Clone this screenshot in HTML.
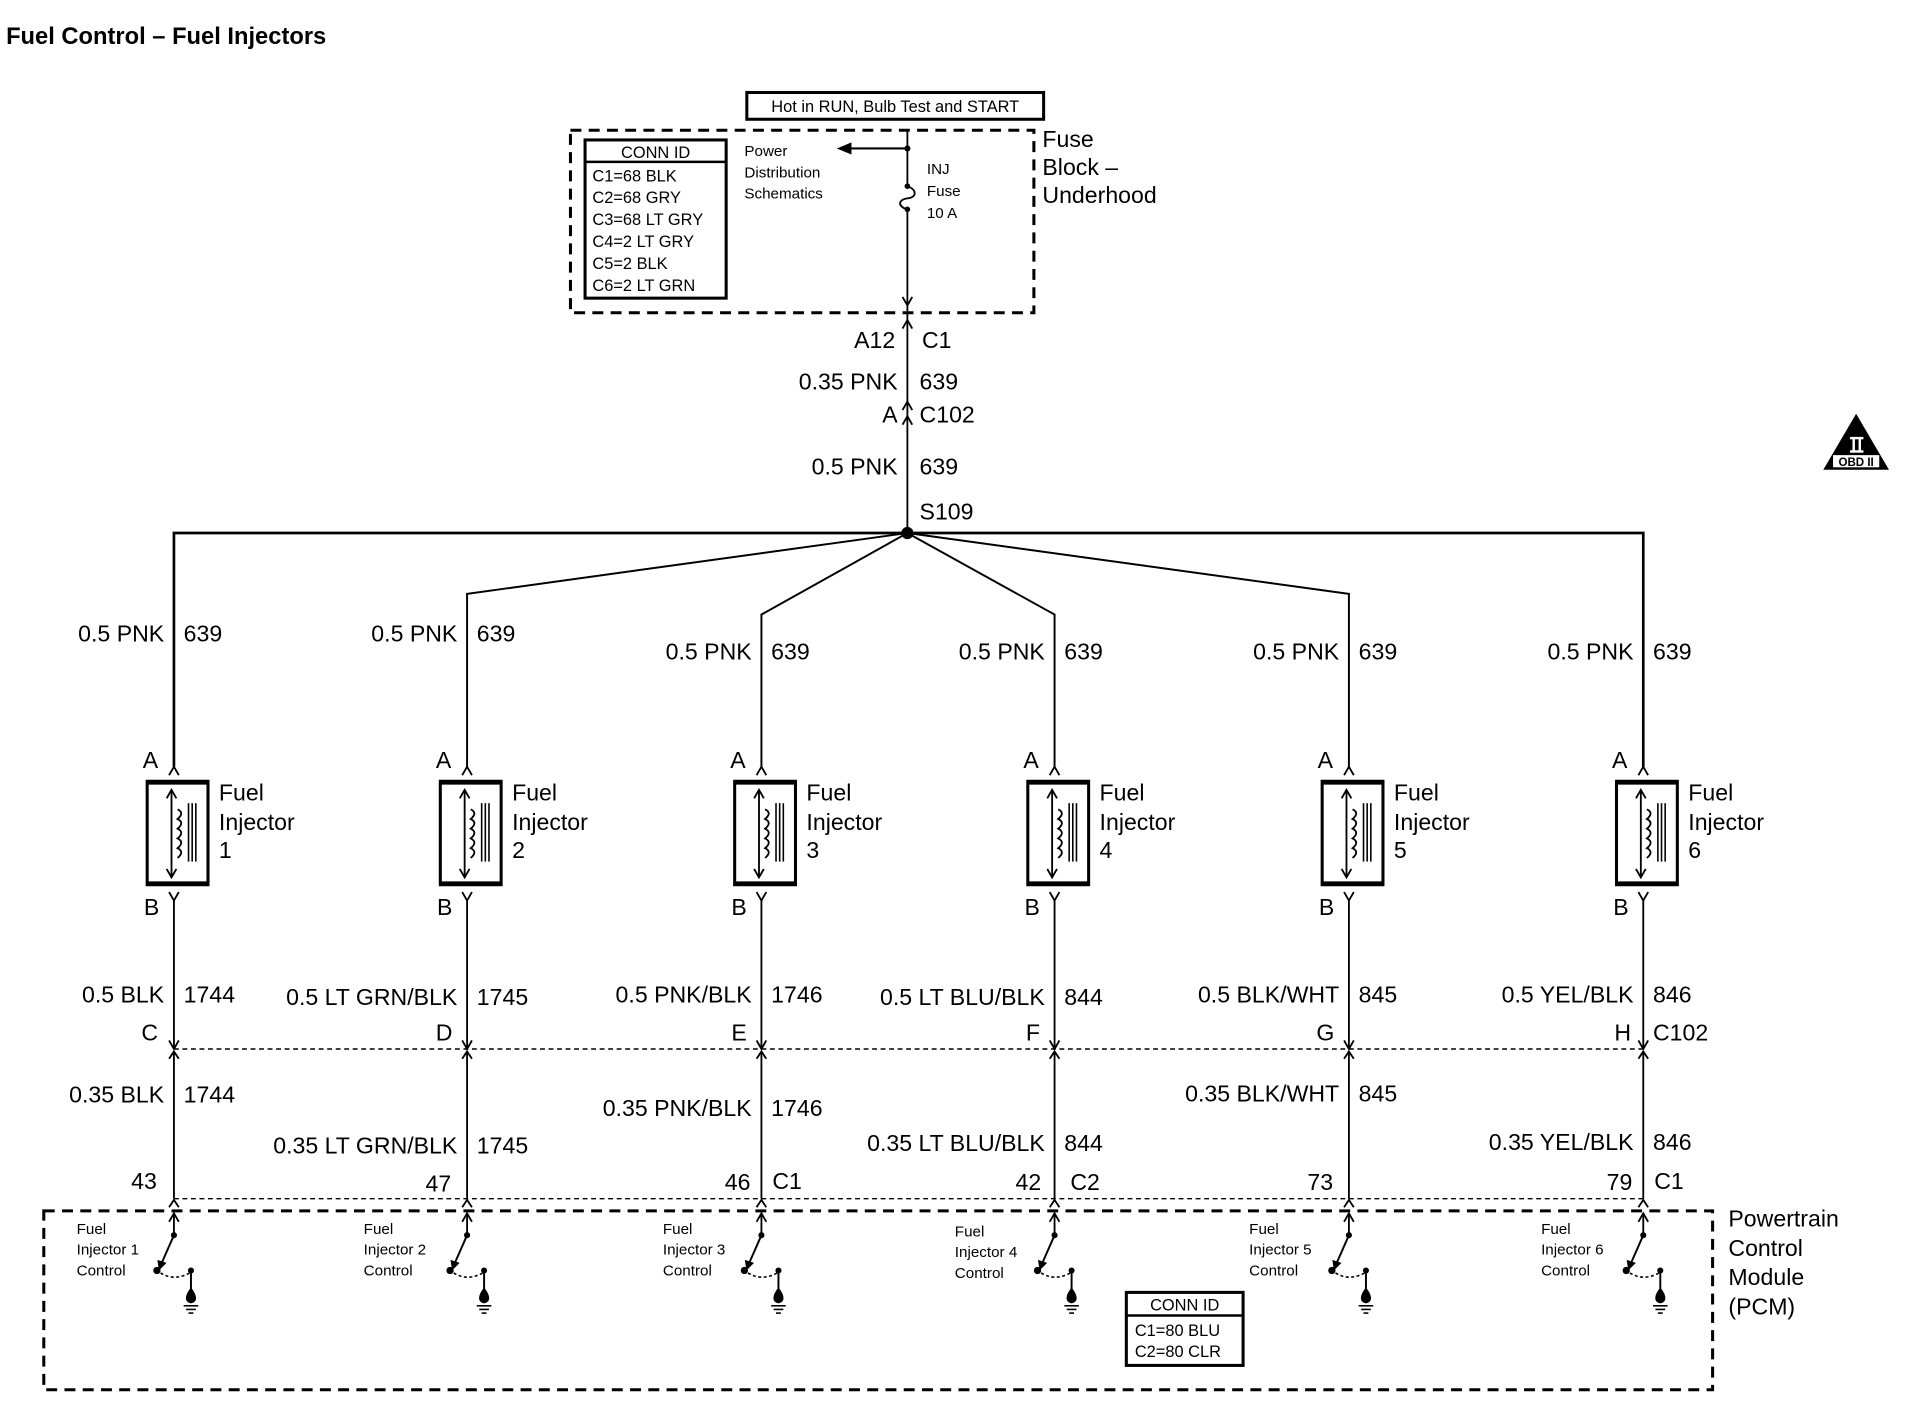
<!DOCTYPE html>
<html><head><meta charset="utf-8"><style>
html,body{margin:0;padding:0;background:#fff}
svg{display:block}
text{font-family:"Liberation Sans Narrow","Liberation Sans",sans-serif;fill:#000}
</style></head><body>
<svg width="1906" height="1408" viewBox="0 0 1567 1157" preserveAspectRatio="none" xmlns="http://www.w3.org/2000/svg">
<defs>
<g id="inj">
<path d="M-4,637 L0,630 L4,637" fill="none" stroke="#000" stroke-width="1.5"/>
<rect x="-22" y="642" width="50" height="85" fill="none" stroke="#000" stroke-width="2.5"/>
<line x1="-23" y1="643" x2="29" y2="643" stroke="#000" stroke-width="3.5"/>
<line x1="-23" y1="726" x2="29" y2="726" stroke="#000" stroke-width="3.5"/>
<line x1="-2" y1="650" x2="-2" y2="720" stroke="#000" stroke-width="1.5"/>
<path d="M-6,656 L-2,649 L2,656 M-6,714 L-2,721 L2,714" fill="none" stroke="#000" stroke-width="1.5"/>
<path d="M3,665 q6,3 0,8 q6,3 0,8 q6,3 0,8 q6,3 0,8 q6,3 0,8" fill="none" stroke="#000" stroke-width="1.5"/>
<line x1="12" y1="660" x2="12" y2="708" stroke="#000" stroke-width="1.3"/>
<line x1="15" y1="660" x2="15" y2="708" stroke="#000" stroke-width="1.3"/>
<line x1="18" y1="660" x2="18" y2="708" stroke="#000" stroke-width="1.3"/>
<path d="M-4,733 L0,740 L4,733" fill="none" stroke="#000" stroke-width="1.5"/>
<line x1="0" y1="740" x2="0" y2="862" stroke="#000" stroke-width="1.5"/>
<path d="M-4,855 L0,862 L4,855 M-4,870 L0,864 L4,870" fill="none" stroke="#000" stroke-width="1.5"/>
<line x1="0" y1="864" x2="0" y2="985" stroke="#000" stroke-width="1.5"/>
<path d="M-4,992 L0,986 L4,992 M-4,1004 L0,997 L4,1004" fill="none" stroke="#000" stroke-width="1.5"/>
<line x1="0" y1="997" x2="0" y2="1015" stroke="#000" stroke-width="1.5"/>
<circle cx="0" cy="1015" r="2.5"/>
<line x1="0" y1="1015" x2="-11" y2="1040" stroke="#000" stroke-width="1.6"/>
<path d="M-13,1036 L-12,1043 L-7,1038 Z" stroke="#000" stroke-width="1"/>
<circle cx="-14" cy="1044" r="3"/>
<path d="M-11,1046 Q0,1053 13,1046" fill="none" stroke="#000" stroke-width="1.3" stroke-dasharray="2.5 2"/>
<circle cx="14" cy="1044" r="2.5"/>
<line x1="14" y1="1044" x2="14" y2="1066" stroke="#000" stroke-width="1.6"/>
<path d="M14,1058 C9,1064 8,1070 14,1071 C20,1070 19,1064 14,1058Z"/>
<line x1="8" y1="1073" x2="20" y2="1073" stroke="#000" stroke-width="1.3"/>
<line x1="10" y1="1076" x2="18" y2="1076" stroke="#000" stroke-width="1.3"/>
<line x1="12" y1="1079" x2="16" y2="1079" stroke="#000" stroke-width="1.3"/>
</g>
</defs>

<text x="5" y="36" font-size="19.5" font-weight="bold">Fuel Control – Fuel Injectors</text>

<rect x="614" y="76" width="244" height="22" fill="none" stroke="#000" stroke-width="2.5"/>
<text x="736" y="92" font-size="13.5" text-anchor="middle">Hot in RUN, Bulb Test and START</text>

<rect x="469" y="107" width="381" height="150" fill="none" stroke="#000" stroke-width="2.5" stroke-dasharray="9 6"/>
<text x="857" y="121" font-size="19">Fuse</text>
<text x="857" y="144" font-size="19">Block –</text>
<text x="857" y="167" font-size="19">Underhood</text>

<rect x="481" y="115" width="116" height="130" fill="none" stroke="#000" stroke-width="2.5"/>
<line x1="481" y1="133" x2="597" y2="133" stroke="#000" stroke-width="2"/>
<g font-size="13.5">
<text x="539" y="130" text-anchor="middle">CONN ID</text>
<text x="487" y="149">C1=68 BLK</text>
<text x="487" y="167">C2=68 GRY</text>
<text x="487" y="185">C3=68 LT GRY</text>
<text x="487" y="203">C4=2 LT GRY</text>
<text x="487" y="221">C5=2 BLK</text>
<text x="487" y="239">C6=2 LT GRN</text>
</g>
<g font-size="12.5">
<text x="612" y="128">Power</text>
<text x="612" y="146">Distribution</text>
<text x="612" y="163">Schematics</text>
<text x="762" y="143">INJ</text>
<text x="762" y="161">Fuse</text>
<text x="762" y="179">10 A</text>
</g>
<line x1="746" y1="107" x2="746" y2="153" stroke="#000" stroke-width="1.5"/>
<circle cx="746" cy="122" r="2.5"/>
<line x1="746" y1="122" x2="698" y2="122" stroke="#000" stroke-width="1.8"/>
<path d="M688,122 L700,117 L700,127 Z"/>
<circle cx="746" cy="153" r="2.3"/>
<path d="M746,153 C754,156 754,162 746,163 C738,164 738,170 746,172" fill="none" stroke="#000" stroke-width="1.5"/>
<circle cx="746" cy="172" r="2.3"/>
<line x1="746" y1="172" x2="746" y2="438" stroke="#000" stroke-width="1.5"/>
<path d="M742,244 L746,251 L750,244 M742,270 L746,263 L750,270" fill="none" stroke="#000" stroke-width="1.5"/>
<path d="M742,337 L746,330 L750,337 M742,349 L746,342 L750,349" fill="none" stroke="#000" stroke-width="1.5"/>
<g font-size="19">
<text x="736" y="286" text-anchor="end">A12</text><text x="758" y="286">C1</text>
<text x="738" y="320" text-anchor="end">0.35 PNK</text><text x="756" y="320">639</text>
<text x="738" y="347" text-anchor="end">A</text><text x="756" y="347">C102</text>
<text x="738" y="390" text-anchor="end">0.5 PNK</text><text x="756" y="390">639</text>
<text x="756" y="427">S109</text>
</g>
<circle cx="746" cy="438" r="5"/>
<path d="M143,630 V438 H1351 V630" fill="none" stroke="#000" stroke-width="2.2"/>
<path d="M384,630 V488 L746,438 L1109,488 V630 M626,630 V505 L746,438 L867,505 V630" fill="none" stroke="#000" stroke-width="1.6"/>

<use href="#inj" x="143"/><use href="#inj" x="384"/><use href="#inj" x="626"/>
<use href="#inj" x="867"/><use href="#inj" x="1109"/><use href="#inj" x="1351"/>

<line x1="143" y1="862" x2="1351" y2="862" stroke="#000" stroke-width="1.2" stroke-dasharray="4 3"/>
<line x1="143" y1="985" x2="1351" y2="985" stroke="#000" stroke-width="1.2" stroke-dasharray="4 3"/>
<rect x="36" y="995" width="1372" height="147" fill="none" stroke="#000" stroke-width="2.5" stroke-dasharray="9 6"/>

<g font-size="19">
<text x="135" y="527" text-anchor="end">0.5 PNK</text><text x="151" y="527">639</text>
<text x="376" y="527" text-anchor="end">0.5 PNK</text><text x="392" y="527">639</text>
<text x="618" y="542" text-anchor="end">0.5 PNK</text><text x="634" y="542">639</text>
<text x="859" y="542" text-anchor="end">0.5 PNK</text><text x="875" y="542">639</text>
<text x="1101" y="542" text-anchor="end">0.5 PNK</text><text x="1117" y="542">639</text>
<text x="1343" y="542" text-anchor="end">0.5 PNK</text><text x="1359" y="542">639</text>

<text x="130" y="631" text-anchor="end">A</text><text x="371" y="631" text-anchor="end">A</text>
<text x="613" y="631" text-anchor="end">A</text><text x="854" y="631" text-anchor="end">A</text>
<text x="1096" y="631" text-anchor="end">A</text><text x="1338" y="631" text-anchor="end">A</text>

<text x="180" y="658">Fuel</text><text x="180" y="682">Injector</text><text x="180" y="705">1</text>
<text x="421" y="658">Fuel</text><text x="421" y="682">Injector</text><text x="421" y="705">2</text>
<text x="663" y="658">Fuel</text><text x="663" y="682">Injector</text><text x="663" y="705">3</text>
<text x="904" y="658">Fuel</text><text x="904" y="682">Injector</text><text x="904" y="705">4</text>
<text x="1146" y="658">Fuel</text><text x="1146" y="682">Injector</text><text x="1146" y="705">5</text>
<text x="1388" y="658">Fuel</text><text x="1388" y="682">Injector</text><text x="1388" y="705">6</text>

<text x="131" y="752" text-anchor="end">B</text><text x="372" y="752" text-anchor="end">B</text>
<text x="614" y="752" text-anchor="end">B</text><text x="855" y="752" text-anchor="end">B</text>
<text x="1097" y="752" text-anchor="end">B</text><text x="1339" y="752" text-anchor="end">B</text>

<text x="135" y="824" text-anchor="end">0.5 BLK</text><text x="151" y="824">1744</text>
<text x="376" y="826" text-anchor="end">0.5 LT GRN/BLK</text><text x="392" y="826">1745</text>
<text x="618" y="824" text-anchor="end">0.5 PNK/BLK</text><text x="634" y="824">1746</text>
<text x="859" y="826" text-anchor="end">0.5 LT BLU/BLK</text><text x="875" y="826">844</text>
<text x="1101" y="824" text-anchor="end">0.5 BLK/WHT</text><text x="1117" y="824">845</text>
<text x="1343" y="824" text-anchor="end">0.5 YEL/BLK</text><text x="1359" y="824">846</text>

<text x="130" y="855" text-anchor="end">C</text><text x="372" y="855" text-anchor="end">D</text>
<text x="614" y="855" text-anchor="end">E</text><text x="855" y="855" text-anchor="end">F</text>
<text x="1097" y="855" text-anchor="end">G</text><text x="1341" y="855" text-anchor="end">H</text>
<text x="1359" y="855">C102</text>

<text x="135" y="906" text-anchor="end">0.35 BLK</text><text x="151" y="906">1744</text>
<text x="376" y="948" text-anchor="end">0.35 LT GRN/BLK</text><text x="392" y="948">1745</text>
<text x="618" y="917" text-anchor="end">0.35 PNK/BLK</text><text x="634" y="917">1746</text>
<text x="859" y="946" text-anchor="end">0.35 LT BLU/BLK</text><text x="875" y="946">844</text>
<text x="1101" y="905" text-anchor="end">0.35 BLK/WHT</text><text x="1117" y="905">845</text>
<text x="1343" y="945" text-anchor="end">0.35 YEL/BLK</text><text x="1359" y="945">846</text>

<text x="129" y="977" text-anchor="end">43</text>
<text x="371" y="979" text-anchor="end">47</text>
<text x="617" y="978" text-anchor="end">46</text><text x="635" y="977">C1</text>
<text x="856" y="978" text-anchor="end">42</text><text x="880" y="978">C2</text>
<text x="1096" y="978" text-anchor="end">73</text>
<text x="1342" y="978" text-anchor="end">79</text><text x="1360" y="977">C1</text>

<text x="1421" y="1008">Powertrain</text><text x="1421" y="1032">Control</text>
<text x="1421" y="1056">Module</text><text x="1421" y="1080">(PCM)</text>
</g>
<g font-size="12.5">
<text x="63" y="1014">Fuel</text><text x="63" y="1031">Injector 1</text><text x="63" y="1048">Control</text>
<text x="299" y="1014">Fuel</text><text x="299" y="1031">Injector 2</text><text x="299" y="1048">Control</text>
<text x="545" y="1014">Fuel</text><text x="545" y="1031">Injector 3</text><text x="545" y="1048">Control</text>
<text x="785" y="1016">Fuel</text><text x="785" y="1033">Injector 4</text><text x="785" y="1050">Control</text>
<text x="1027" y="1014">Fuel</text><text x="1027" y="1031">Injector 5</text><text x="1027" y="1048">Control</text>
<text x="1267" y="1014">Fuel</text><text x="1267" y="1031">Injector 6</text><text x="1267" y="1048">Control</text>
</g>

<rect x="926" y="1062" width="96" height="60" fill="none" stroke="#000" stroke-width="2.5"/>
<line x1="926" y1="1081" x2="1022" y2="1081" stroke="#000" stroke-width="2"/>
<g font-size="13.5">
<text x="974" y="1077" text-anchor="middle">CONN ID</text>
<text x="933" y="1098">C1=80 BLU</text>
<text x="933" y="1115">C2=80 CLR</text>
</g>

<path d="M1526,340 L1553,386 L1499,386 Z"/>
<rect x="1521" y="359" width="11" height="2" fill="#fff"/>
<rect x="1521" y="370" width="11" height="2" fill="#fff"/>
<rect x="1523" y="360" width="2" height="11" fill="#fff"/>
<rect x="1528" y="360" width="2" height="11" fill="#fff"/>
<rect x="1507" y="374" width="38" height="10" fill="#fff"/>
<text x="1526" y="383" font-size="9.5" text-anchor="middle" font-weight="bold">OBD II</text>
</svg>
</body></html>
